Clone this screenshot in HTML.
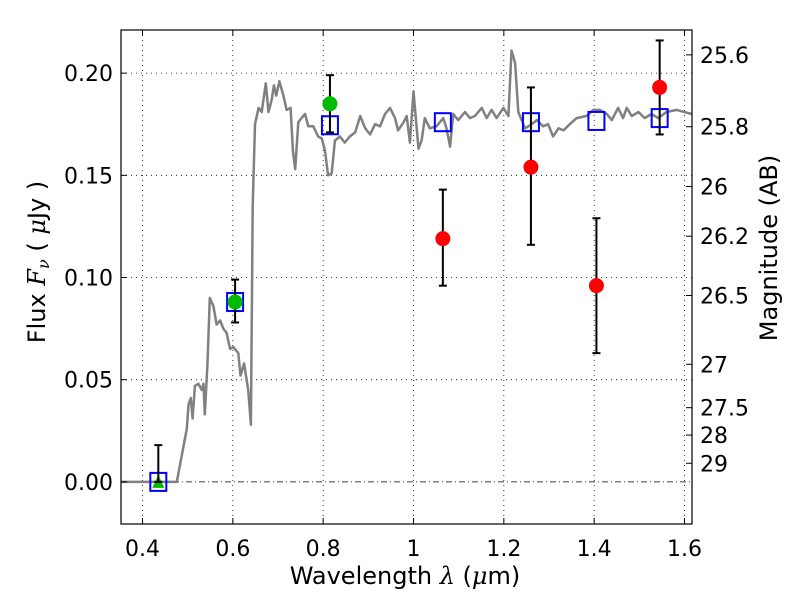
<!DOCTYPE html>
<html><head><meta charset="utf-8"><style>
body{margin:0;background:#fff}
svg text{font-family:"DejaVu Sans","Liberation Sans",sans-serif;fill:#000}
</style></head><body>
<svg id="c" width="800" height="600" xmlns="http://www.w3.org/2000/svg"></svg>
<script>
const sedLam=[0.352,0.476,0.498,0.502,0.507,0.511,0.516,0.524,0.531,0.535,0.538,0.544,0.549,0.557,0.564,0.572,0.579,0.586,0.594,0.601,0.612,0.617,0.625,0.634,0.640,0.644,0.649,0.657,0.664,0.673,0.679,0.686,0.691,0.696,0.703,0.712,0.719,0.728,0.733,0.738,0.745,0.752,0.760,0.767,0.778,0.789,0.797,0.804,0.811,0.819,0.826,0.837,0.848,0.859,0.871,0.882,0.893,0.904,0.915,0.926,0.937,0.948,0.959,0.966,0.978,0.985,0.992,1.000,1.011,1.018,1.025,1.036,1.051,1.066,1.073,1.081,1.088,1.099,1.114,1.125,1.136,1.151,1.162,1.173,1.184,1.199,1.210,1.217,1.225,1.232,1.247,1.262,1.273,1.287,1.298,1.309,1.321,1.332,1.346,1.361,1.383,1.398,1.413,1.428,1.439,1.453,1.464,1.472,1.483,1.498,1.512,1.527,1.542,1.560,1.583,1.616];
const sedFlux=[0,0,0.026,0.038,0.041,0.031,0.047,0.048,0.045,0.048,0.033,0.058,0.090,0.086,0.077,0.079,0.075,0.073,0.065,0.066,0.063,0.052,0.058,0.045,0.028,0.135,0.175,0.183,0.181,0.195,0.181,0.187,0.194,0.189,0.196,0.189,0.182,0.183,0.162,0.153,0.176,0.178,0.180,0.174,0.174,0.169,0.168,0.162,0.150,0.151,0.167,0.169,0.166,0.169,0.171,0.179,0.173,0.170,0.175,0.174,0.180,0.183,0.178,0.172,0.176,0.179,0.166,0.191,0.163,0.167,0.178,0.173,0.174,0.178,0.173,0.164,0.180,0.177,0.181,0.178,0.179,0.183,0.178,0.182,0.178,0.183,0.179,0.211,0.205,0.181,0.173,0.175,0.177,0.174,0.175,0.169,0.173,0.172,0.175,0.178,0.179,0.182,0.182,0.180,0.177,0.183,0.178,0.183,0.179,0.181,0.178,0.180,0.178,0.181,0.182,0.180];
const modelLam=[0.435,0.605,0.815,1.065,1.26,1.405,1.545];
const modelFlux=[0,0.088,0.1745,0.176,0.176,0.1766,0.178];
const greenLam=[0.605,0.815];
const greenFlux=[0.088,0.185];
const greenLo=[0.078,0.171];
const greenHi=[0.099,0.199];
const triLam=[0.435];
const triFlux=[0];
const triHi=[0.018];
const redLam=[1.065,1.26,1.405,1.545];
const redFlux=[0.119,0.154,0.096,0.193];
const redLo=[0.096,0.116,0.063,0.170];
const redHi=[0.143,0.193,0.129,0.216];
const xTicks=[0.4,0.6,0.8,1.0,1.2,1.4,1.6];
const xTickLabels=["0.4","0.6","0.8","1","1.2","1.4","1.6"];
const yTicks=[0,0.05,0.10,0.15,0.20];
const yTickLabels=["0.00","0.05","0.10","0.15","0.20"];
const magTicks=[25.6,25.8,26,26.2,26.5,27,27.5,28,29];
const magTickLabels=["25.6","25.8","26","26.2","26.5","27","27.5","28","29"];

const L=121,R=692,T=30,B=524;
const xmin=0.3524,xmax=1.6166,ymin=-0.0206,ymax=0.2211;
const X=v=>L+(v-xmin)/(xmax-xmin)*(R-L);
const Y=v=>B-(v-ymin)/(ymax-ymin)*(B-T);
const svg=document.getElementById('c');
const NS='http://www.w3.org/2000/svg';
function mk(tag,attrs,parent){const e=document.createElementNS(NS,tag);for(const k in attrs)e.setAttribute(k,attrs[k]);(parent||svg).appendChild(e);return e;}

const grid=mk('g',{});


xTicks.forEach(t=>mk('line',{x1:X(t),x2:X(t),y1:T,y2:B,stroke:'#000','stroke-width':0.8,'stroke-dasharray':'1,4'},grid));
yTicks.forEach(t=>{if(t!==0)mk('line',{x1:L,x2:R,y1:Y(t),y2:Y(t),stroke:'#000','stroke-width':0.8,'stroke-dasharray':'1,4'},grid);});
const zl=mk('line',{x1:L,x2:R,y1:Y(0),y2:Y(0),stroke:'#000','stroke-width':0.8,'stroke-dasharray':'6,3,1,3'});



let d='';sedLam.forEach((l,i)=>{d+=(i?'L':'M')+X(l).toFixed(1)+','+Y(sedFlux[i]).toFixed(1);});
const sed=mk('path',{d:d,fill:'none',stroke:'#808080','stroke-width':2.5,'stroke-linejoin':'round'});



function errbar(x,lo,hi,name){const g=mk('g',{stroke:'#000','stroke-width':2});


mk('line',{x1:X(x),x2:X(x),y1:Y(lo),y2:Y(hi)},g);
mk('line',{x1:X(x)-4,x2:X(x)+4,y1:Y(lo),y2:Y(lo)},g);
mk('line',{x1:X(x)-4,x2:X(x)+4,y1:Y(hi),y2:Y(hi)},g);}

modelLam.forEach((l,i)=>{const r=mk('rect',{x:X(l)-8,y:Y(modelFlux[i])-9,width:16,height:18,fill:'none',stroke:'#0000ff','stroke-width':2});

});
triLam.forEach((l,i)=>{const x=X(l),y=Y(triFlux[i]);
const p=mk('polygon',{points:`${x-6},${y+6} ${x+6},${y+6} ${x},${y-7}`,fill:'#00bb00'});


errbar(l,triFlux[i],triHi[i],'triangle-error-bar');});
greenLam.forEach((l,i)=>{errbar(l,greenLo[i],greenHi[i],'green-error-bar');
const c=mk('circle',{cx:X(l),cy:Y(greenFlux[i]),r:7.5,fill:'#00bb00'});

});
redLam.forEach((l,i)=>{errbar(l,redLo[i],redHi[i],'red-error-bar');
const c=mk('circle',{cx:X(l),cy:Y(redFlux[i]),r:7.5,fill:'#ff0000'});

});

const frame=mk('rect',{x:L,y:T,width:R-L,height:B-T,fill:'none',stroke:'#000','stroke-width':1.2});



xTicks.forEach((t,i)=>{mk('line',{x1:X(t),x2:X(t),y1:B,y2:B-6,stroke:'#000'});mk('line',{x1:X(t),x2:X(t),y1:T,y2:T+6,stroke:'#000'});
const tx=mk('text',{x:X(t),y:B+32,'text-anchor':'middle','font-size':22});tx.textContent=xTickLabels[i];

});
yTicks.forEach((t,i)=>{mk('line',{x1:L,x2:L+6,y1:Y(t),y2:Y(t),stroke:'#000'});
const tx=mk('text',{x:L-8,y:Y(t)+8,'text-anchor':'end','font-size':22});tx.textContent=yTickLabels[i];

});
magTicks.forEach((m,i)=>{const f=Math.pow(10,(23.9-m)/2.5);const y=Y(f);
mk('line',{x1:R,x2:R-6,y1:y,y2:y,stroke:'#000'});
const tx=mk('text',{x:R+8,y:y+8,'font-size':22});tx.textContent=magTickLabels[i];

});
</script>
<svg width="800" height="600" style="position:absolute;left:0;top:0" xmlns="http://www.w3.org/2000/svg">
<text x="405" y="584" text-anchor="middle" font-size="24">Wavelength  <tspan font-style="italic" font-family="DejaVu Serif,serif">λ</tspan> (<tspan font-style="italic" font-family="DejaVu Serif,serif">μ</tspan>m)</text>
<text transform="translate(45,262) rotate(-90)" text-anchor="middle" font-size="24">Flux  <tspan font-style="italic" font-family="DejaVu Serif,serif">F</tspan><tspan font-style="italic" font-size="16" dy="4" font-family="DejaVu Serif,serif">ν</tspan><tspan dy="-4">  (  </tspan><tspan font-style="italic" font-family="DejaVu Serif,serif">μ</tspan>Jy )</text>
<text transform="translate(777,248) rotate(-90)" text-anchor="middle" font-size="24">Magnitude (AB)</text>
</svg>
</body></html>
